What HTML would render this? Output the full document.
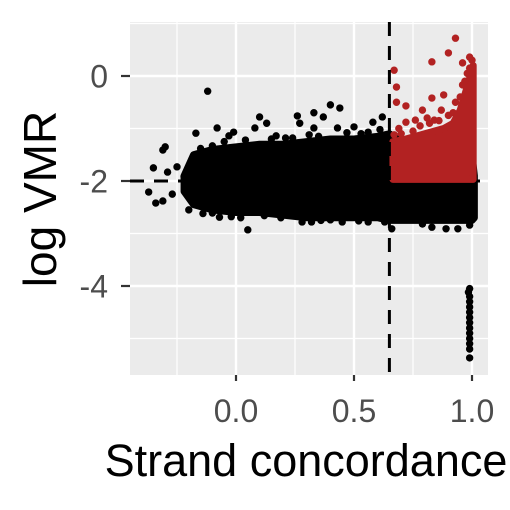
<!DOCTYPE html>
<html><head><meta charset="utf-8"><style>
html,body{margin:0;padding:0;background:#fff;}
svg{display:block;font-family:"Liberation Sans",sans-serif;}
</style></head><body>
<svg id="chart" width="510" height="510" viewBox="0 0 510 510">
<rect x="130" y="22" width="358" height="353" fill="#ebebeb"/>
<g id="grid"></g>
<g id="refs"></g>
<g id="cores"></g>
<g id="points"></g>
<g id="axes"></g>
<text x="306" y="476" font-size="45" text-anchor="middle" fill="#000">Strand concordance</text>
<text transform="translate(56,199) rotate(-90)" font-size="46" text-anchor="middle" fill="#000">log VMR</text>
</svg>
<script>
const xTicks=[0.0,0.5,1.0];
const xTickLabels=["0.0","0.5","1.0"];
const yTicks=[0,-2,-4];
const yTickLabels=["0","-2","-4"];
const xMinor=[-0.25,0.25,0.75];
const yMinor=[1,-1,-3,-5];
const cutoffX=0.65;
const cutoffY=-2;
// dense black region envelope
const coreX=[-0.22,-0.18,-0.1,0.0,0.1,0.2,0.3,0.4,0.5,0.6,0.65,0.8,0.9,1.0,1.01];
const coreTop=[-1.9,-1.5,-1.4,-1.35,-1.3,-1.3,-1.25,-1.2,-1.2,-1.15,-1.1,-1.5,-1.5,-1.5,-1.9];
const coreBottom=[-2.2,-2.45,-2.55,-2.6,-2.6,-2.65,-2.7,-2.7,-2.7,-2.7,-2.75,-2.75,-2.75,-2.75,-2.7];
// dense red region envelope
const redX=[0.665,0.72,0.8,0.88,0.92,0.95,0.98,1.005];
const redTop=[-1.25,-1.2,-1.1,-1.0,-0.9,-0.65,-0.2,0.2];
const redBottom=[-1.97,-1.97,-1.97,-1.97,-1.97,-1.97,-1.97,-1.97];
// black outliers
const blackX=[-0.12,-0.30,-0.31,-0.35,-0.37,-0.34,-0.31,-0.27,-0.29,-0.25,-0.17,-0.08,-0.10,-0.01,-0.03,0.08,0.10,0.13,0.17,0.26,0.27,0.33,0.37,0.40,0.44,0.33,0.43,0.24,0.50,0.58,0.62,0.56,0.05,0.02,-0.10,-0.07,0.28,0.32,0.40,0.45,0.56,0.66,0.79,0.83,0.89,0.94,0.99,-0.19,-0.22,
-0.15,-0.05,0.04,0.15,0.21,0.31,0.35,0.47,0.53,0.61,-0.2,-0.14,-0.02,0.12,0.19,0.36,0.52,0.63,
0.99,0.985,0.99,0.99,0.99,0.99,0.99,0.99,0.99,0.99,0.99,0.99,0.99,0.99];
const blackY=[-0.29,-1.35,-1.41,-1.75,-2.21,-2.42,-2.38,-2.25,-1.83,-1.73,-1.09,-0.99,-1.33,-1.07,-1.14,-0.99,-0.78,-0.90,-1.14,-0.76,-0.90,-0.70,-0.78,-0.55,-0.61,-0.99,-0.99,-1.18,-0.97,-0.88,-0.78,-1.07,-2.93,-2.70,-2.61,-2.69,-2.78,-2.78,-2.74,-2.78,-2.78,-2.91,-2.82,-2.88,-2.91,-2.91,-2.84,-2.33,-1.92,
-1.38,-1.25,-1.22,-1.2,-1.18,-1.12,-1.15,-1.08,-1.1,-1.02,-2.55,-2.62,-2.68,-2.66,-2.7,-2.75,-2.76,-2.78,
-4.05,-4.12,-4.2,-4.3,-4.4,-4.5,-4.6,-4.7,-4.8,-4.9,-5.0,-5.1,-5.2,-5.37];
// red outliers
const redPX=[0.93,0.90,0.83,0.96,0.99,0.67,0.68,0.68,0.72,0.79,0.76,0.83,0.88,0.96,0.93,0.87,0.84,0.72,0.67,
0.7,0.75,0.78,0.82,0.86,0.9,0.92,0.95,0.97,0.98,0.99,1.0,0.81,0.69];
const redPY=[0.72,0.44,0.27,0.25,0.36,0.11,-0.21,-0.50,-0.57,-0.65,-0.84,-0.42,-0.36,-0.17,-0.50,-0.65,-0.84,-0.88,-1.12,
-1.1,-1.05,-0.95,-0.9,-0.85,-0.75,-0.7,-0.4,-0.1,0.05,0.15,0.3,-0.8,-1.0];

const NS="http://www.w3.org/2000/svg";
const X0=130,X1=488,Y0=22,Y1=375;
function sx(v){return 236+(v-0)*236;}
function sy(v){return 181-(v+2)*52.5;}
function mk(tag,attrs,parent){const e=document.createElementNS(NS,tag);for(const k in attrs)e.setAttribute(k,attrs[k]);parent.appendChild(e);return e;}
const grid=document.getElementById('grid');
xMinor.forEach(v=>{const l=mk('line',{x1:sx(v),x2:sx(v),y1:Y0,y2:Y1,stroke:'#fff','stroke-width':1.2},grid);

});
yMinor.forEach(v=>{const y=sy(v);if(y<Y0||y>Y1)return;const l=mk('line',{x1:X0,x2:X1,y1:y,y2:y,stroke:'#fff','stroke-width':1.2},grid);

});
xTicks.forEach(v=>{const l=mk('line',{x1:sx(v),x2:sx(v),y1:Y0,y2:Y1,stroke:'#fff','stroke-width':2.4},grid);

});
yTicks.forEach(v=>{const l=mk('line',{x1:X0,x2:X1,y1:sy(v),y2:sy(v),stroke:'#fff','stroke-width':2.4},grid);

});

const refs=document.getElementById('refs');
const hl=mk('line',{x1:X0,x2:X1,y1:sy(cutoffY),y2:sy(cutoffY),stroke:'#000','stroke-width':3,'stroke-dasharray':'14 10'},refs);



const cores=document.getElementById('cores');
function env(xs,top,bot,color,name){
 let pts=[];for(let i=0;i<xs.length;i++)pts.push(sx(xs[i])+','+sy(top[i]));
 for(let i=xs.length-1;i>=0;i--)pts.push(sx(xs[i])+','+sy(bot[i]));
 const p=mk('polygon',{points:pts.join(' '),fill:color,stroke:color,'stroke-width':7,'stroke-linejoin':'round'},cores);
 
 
}
env(coreX,coreTop,coreBottom,'#000','dense-black-points');
env(redX,redTop,redBottom,'#b22222','dense-red-points');

const pg=document.getElementById('points');
for(let i=0;i<blackX.length;i++){const c=mk('circle',{cx:sx(blackX[i]),cy:sy(blackY[i]),r:3.7,fill:'#000'},pg);

}
for(let i=0;i<redPX.length;i++){const c=mk('circle',{cx:sx(redPX[i]),cy:sy(redPY[i]),r:3.7,fill:'#b22222'},pg);

}
const vl=mk('line',{x1:sx(cutoffX),x2:sx(cutoffX),y1:Y0,y2:Y1,stroke:'#000','stroke-width':3,'stroke-dasharray':'14 10'},pg);



const ax=document.getElementById('axes');
xTicks.forEach((v,i)=>{
 const t=mk('line',{x1:sx(v),x2:sx(v),y1:Y1,y2:Y1+6,stroke:'#333','stroke-width':2.2},ax);
 
 
 const tx=mk('text',{x:sx(v),y:422,'font-size':32,'text-anchor':'middle',fill:'#4d4d4d'},ax);
 tx.textContent=xTickLabels[i];
 
 
});
yTicks.forEach((v,i)=>{
 const t=mk('line',{x1:X0-9,x2:X0,y1:sy(v),y2:sy(v),stroke:'#333','stroke-width':2.2},ax);
 
 
 const tx=mk('text',{x:X0-22,y:sy(v)+11.5,'font-size':32,'text-anchor':'end',fill:'#4d4d4d'},ax);
 tx.textContent=yTickLabels[i];
 
 
});
</script>
</body></html>
